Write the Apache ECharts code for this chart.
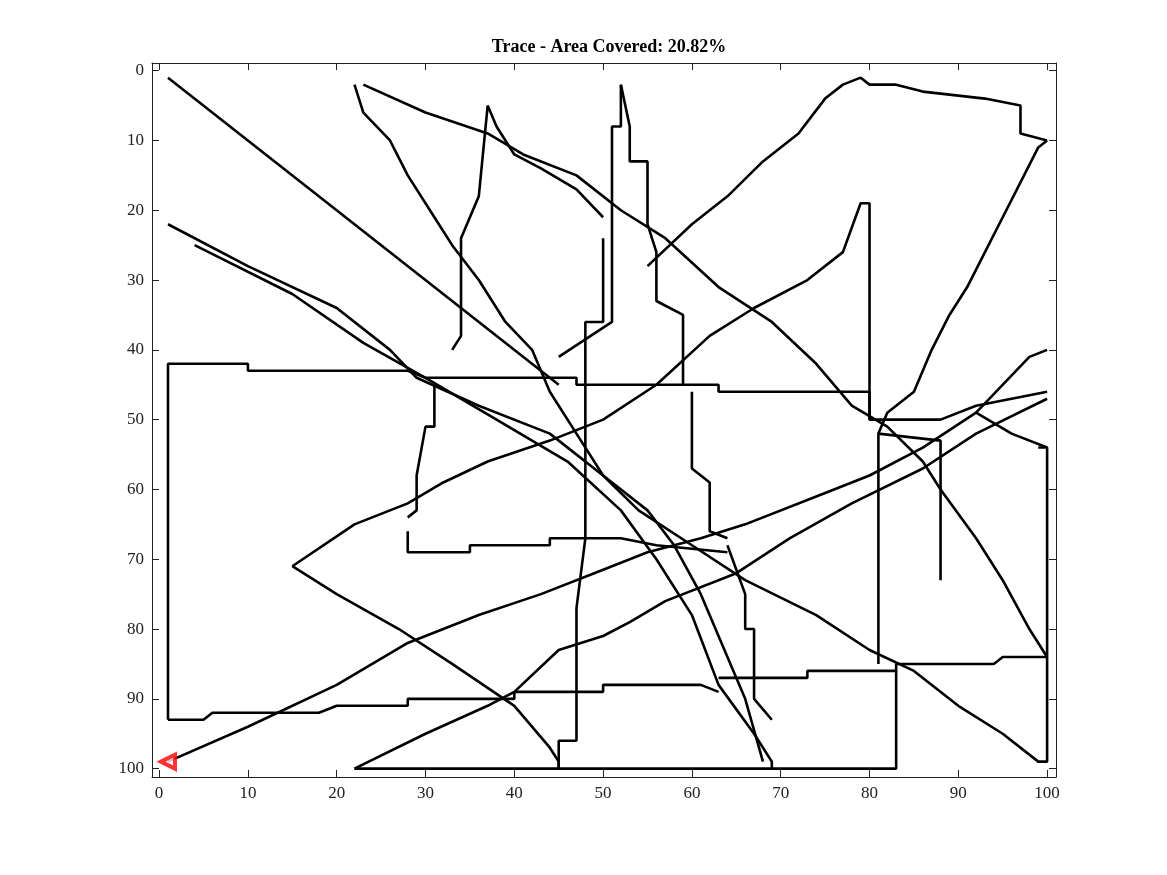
<!DOCTYPE html>
<html>
<head>
<meta charset="utf-8">
<script src="https://cdn.jsdelivr.net/npm/echarts@6/dist/echarts.min.js"></script>
<style>html,body{margin:0;padding:0;background:#fff}#main{width:1167px;height:875px}</style>
</head>
<body>
<div id="main"></div>
<script>
var ticks = [0, 10, 20, 30, 40, 50, 60, 70, 80, 90, 100];
var startPoint = [1, 99];
// trace pieces (x, y)
var paths = [
    [[1,1],[45,45]],
    [[1,93],[1,42],[10,42],[10,43],[28,43],[30,44],[47,44],[47,45],[63,45],[63,46],[80,46],[80,50],[88,50],[92,48],[100,46]],
    [[1,93],[5,93],[6,92],[18,92],[20,91],[28,91],[28,90],[40,90],[40,89],[50,89],[50,88],[61,88],[63,89]],
    [[63,87],[73,87],[73,86],[83,86],[83,85],[94,85],[95,84],[100,84]],
    [[1,22],[10,28],[20,34],[26,40],[29,44],[36,48],[44,52],[50,58],[55,63],[58,68],[61,75],[64,84],[66,90],[68,99]],
    [[4,25],[15,32],[23,39],[30,44],[38,50],[46,56],[52,63],[56,70],[60,78],[63,88],[67,95],[69,99],[69,100]],
    [[22,2],[23,6],[26,10],[28,15],[31,21],[33,25],[36,30],[39,36],[42,40],[44,46],[47,52],[50,58],[54,63],[60,68],[66,73],[74,78],[80,83],[85,86],[90,91],[95,95],[99,99],[100,99],[100,54],[99,54]],
    [[23,2],[30,6],[37,9],[41,12],[47,15],[52,20],[57,24],[63,31],[69,36],[74,42],[78,48],[82,51],[86,56],[88,60],[92,67],[95,73],[98,80],[100,84]],
    [[15,71],[22,65],[28,62],[32,59],[37,56],[44,53],[50,50],[56,45],[62,38],[67,34],[73,30],[77,26],[79,19],[80,19],[80,50]],
    [[15,71],[20,75],[27,80],[33,85],[40,91],[44,97],[45,99],[45,100]],
    [[22,100],[83,100],[83,86]],
    [[22,100],[30,95],[37,91],[40,89],[45,83],[50,81],[53,79],[57,76],[65,72],[71,67],[78,62],[86,57],[92,52],[100,47]],
    [[1,99],[10,94],[20,88],[28,82],[36,78],[43,75],[49,72],[55,69],[61,67],[66,65],[74,61],[80,58],[86,54],[92,49],[98,41],[100,40]],
    [[28,66],[28,69],[35,69],[35,68],[44,68],[44,67],[52,67],[56,68],[64,69]],
    [[28,64],[29,63],[29,58],[30,51],[31,51],[31,45]],
    [[33,40],[34,38],[34,24],[36,18],[37,5],[38,8],[40,12],[43,14],[47,17],[50,21]],
    [[45,100],[45,96],[47,96],[47,77],[48,67],[48,36],[50,36],[50,24]],
    [[52,2],[52,8],[51,8],[51,36],[45,41]],
    [[52,2],[53,8],[53,13],[55,13],[55,22],[56,26],[56,33],[59,35],[59,45]],
    [[60,46],[60,57],[62,59],[62,66],[64,67]],
    [[64,68],[66,75],[66,80],[67,80],[67,90],[69,93]],
    [[55,28],[60,22],[64,18],[68,13],[72,9],[75,4],[77,2],[79,1],[80,2],[83,2],[86,3],[93,4],[97,5],[97,9],[100,10]],
    [[100,10],[99,11],[97,16],[95,21],[93,26],[91,31],[89,35],[87,40],[85,46],[82,49],[81,52],[81,85]],
    [[81,52],[88,53],[88,73]],
    [[92,49],[96,52],[100,54]]
];

var series = paths.map(function (p) {
    return {
        type: 'line', data: p, symbol: 'none', silent: true,
        lineStyle: {color: '#000', width: 2.6}
    };
});
series.push({
    type: 'scatter', data: [startPoint], symbol: 'triangle', symbolRotate: 90, symbolSize: 14,
    itemStyle: {color: '#fff', borderColor: '#ff0000', borderWidth: 4}, z: 10
});

function axis(pos, show, inv) {
    return {
        type: 'value', position: pos, min: pos === 'left' || pos === 'right' ? -1.1 : -0.8,
        max: pos === 'left' || pos === 'right' ? 101.2 : 101, inverse: inv,
        splitLine: {show: false},
        axisLine: {show: true, onZero: false, lineStyle: {color: '#222', width: 1}},
        axisTick: {show: true, inside: true, length: 7, customValues: ticks, lineStyle: {color: '#222'}},
        axisLabel: {show: show, customValues: ticks, color: '#222', fontFamily: 'Liberation Serif', fontSize: 17, margin: 8}
    };
}

var myChart = echarts.init(document.getElementById('main'));
myChart.setOption({
    animation: false,
    title: {
        text: 'Trace - Area Covered: 20.82%', left: 604, top: 33, textAlign: 'center',
        textStyle: {fontFamily: 'Liberation Serif', fontSize: 18, fontWeight: 'bold', color: '#000'}
    },
    grid: {left: 152, right: 111, top: 63, bottom: 98},
    xAxis: [axis('bottom', true, false), axis('top', false, false)],
    yAxis: [axis('left', true, true), axis('right', false, true)],
    series: series
});
</script>
</body>
</html>
